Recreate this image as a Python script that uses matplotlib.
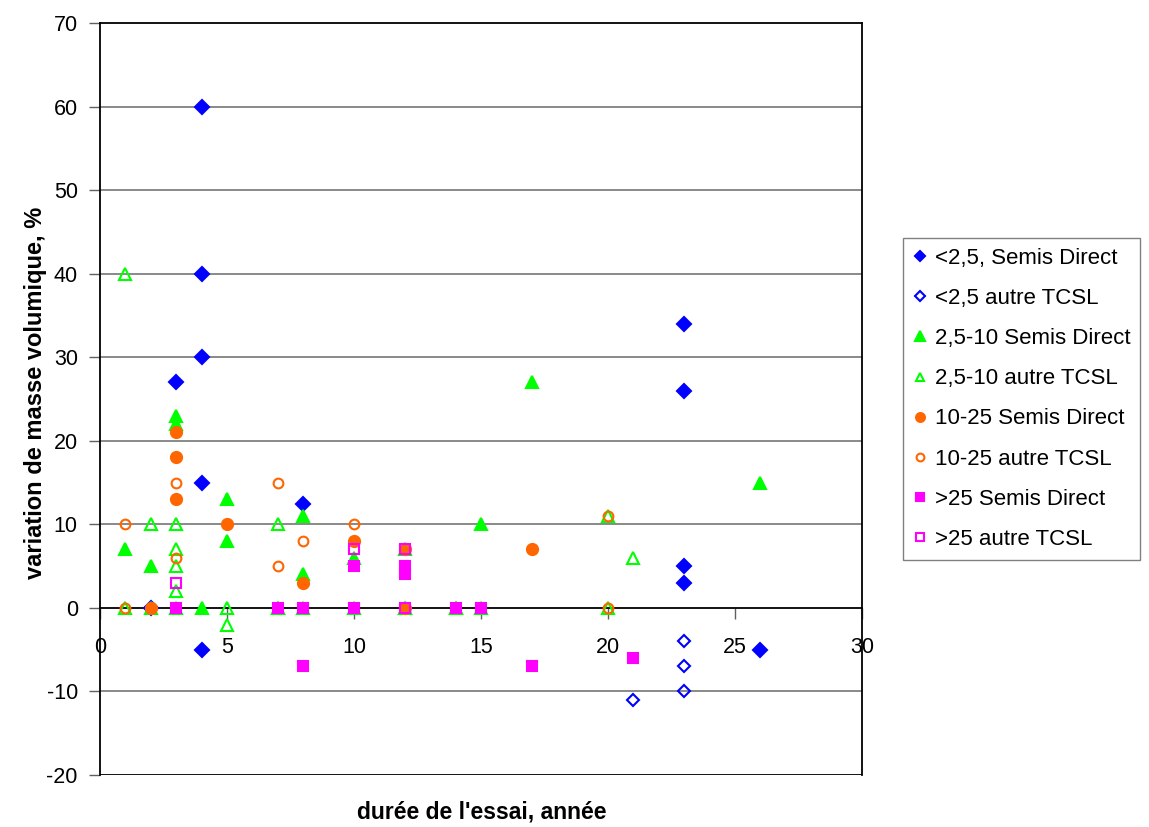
import numpy as np
import matplotlib
matplotlib.use('Agg')
import matplotlib.pyplot as plt

plt.rcParams['font.family'] = ['Liberation Sans', 'DejaVu Sans']
plt.rcParams['axes.unicode_minus'] = False

# data (duree, variation %)
sd_lt25_x = [4, 4, 4, 3, 4, 4, 8, 23, 23, 23, 23, 26, 2]
sd_lt25_y = [60, 40, 30, 27, 15, -5, 12.4, 34, 26, 5, 3, -5, 0]

at_lt25_x = [23, 23, 23, 21]
at_lt25_y = [-4, -7, -10, -11]

sd_25_10_x = [1, 2, 3, 3, 4, 5, 5, 8, 8, 10, 12, 15, 17, 26, 2, 7, 8, 10, 12, 14, 15]
sd_25_10_y = [7, 5, 23, 22, 0, 13, 8, 11, 4, 6, 7, 10, 27, 15, 0, 0, 0, 0, 0, 0, 0]

at_25_10_x = [1, 2, 3, 3, 3, 3, 1, 3, 5, 5, 7, 7, 12, 14, 20, 20, 21]
at_25_10_y = [40, 10, 10, 7, 5, 2, 0, 0, 0, -2, 10, 0, 0, 0, 11, 0, 6]

sd_10_25_x = [2, 3, 3, 3, 5, 8, 10, 12, 12, 17]
sd_10_25_y = [0, 21, 18, 13, 10, 3, 8, 7, 0, 7]

at_10_25_x = [1, 1, 3, 3, 7, 7, 8, 10, 20, 20]
at_10_25_y = [10, 0, 15, 6, 15, 5, 8, 10, 11, 0]

sd_gt25_x = [3, 7, 8, 8, 10, 10, 12, 12, 14, 15, 17, 21]
sd_gt25_y = [0, 0, 0, -7, 0, 5, 5, 4, 0, 0, -7, -6]

at_gt25_x = [3, 10, 12, 12]
at_gt25_y = [3, 7, 7, 0]

labels = ['<2,5, Semis Direct', '<2,5 autre TCSL', '2,5-10 Semis Direct',
          '2,5-10 autre TCSL', '10-25 Semis Direct', '10-25 autre TCSL',
          '>25 Semis Direct', '>25 autre TCSL']

blue = '#0000FF'
green = '#00FF00'
orange = '#FF6600'
magenta = '#FF00FF'

series = [
    (sd_lt25_x, sd_lt25_y, 'D', blue, True, 7),
    (at_lt25_x, at_lt25_y, 'D', blue, False, 6.5),
    (sd_25_10_x, sd_25_10_y, '^', green, True, 8.5),
    (at_25_10_x, at_25_10_y, '^', green, False, 8),
    (sd_10_25_x, sd_10_25_y, 'o', orange, True, 8),
    (at_10_25_x, at_10_25_y, 'o', orange, False, 7),
    (sd_gt25_x, sd_gt25_y, 's', magenta, True, 7.5),
    (at_gt25_x, at_gt25_y, 's', magenta, False, 7),
]

fig = plt.figure(figsize=(11.49, 8.27), dpi=100)
ax = fig.add_axes([100/1149, 1-775/827, 762/1149, 752/827])

handles = []
for (x, y, m, c, filled, ms), lab in zip(series, labels):
    h, = ax.plot(x, y, linestyle='none', marker=m, markersize=ms,
                 markerfacecolor=c if filled else 'none',
                 markeredgecolor=c, markeredgewidth=1.5, label=lab, zorder=3)
    handles.append(h)

ax.set_xlim(0, 30)
ax.set_ylim(-20, 70)
ax.set_yticks(np.arange(-20, 71, 10))
ax.set_xticks(np.arange(0, 31, 5))

# horizontal gridlines
for yv in range(-10, 70, 10):
    if yv != 0:
        ax.axhline(yv, color='#808080', linewidth=1.3, zorder=1)
ax.axhline(-20, color='black', linewidth=1.3, zorder=1)

ax.spines['bottom'].set_position(('data', 0))
ax.spines['bottom'].set_zorder(2)
for s in ['top', 'right', 'left', 'bottom']:
    ax.spines[s].set_color('black')
    ax.spines[s].set_linewidth(1.3)

ax.tick_params(axis='both', direction='out', length=8, width=1,
               color='#606060', labelsize=15.5)
ax.tick_params(axis='x', pad=13)
ax.tick_params(axis='y', pad=8)

fig.text(36/1149, 1-393/827, 'variation de masse volumique, %', fontsize=17,
         fontweight='bold', rotation=90, ha='center', va='center')
fig.text(482/1149, 1-812/827, "durée de l'essai, année", fontsize=16.5,
         fontweight='bold', ha='center', va='center')

fig.legend(handles=handles, loc='upper left', bbox_to_anchor=(903/1149, 1-238/827),
           fontsize=16, frameon=True, fancybox=False, edgecolor='#606060',
           labelspacing=0.86, handletextpad=0.32, handlelength=0.66,
           markerscale=0.8, borderpad=0.45, borderaxespad=0)

fig.savefig('out.png', dpi=100)
